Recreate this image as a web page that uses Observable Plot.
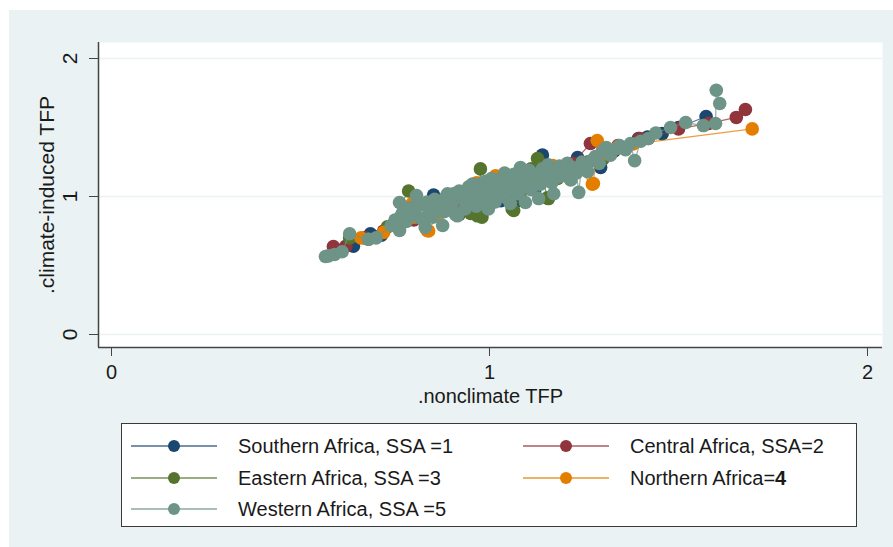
<!DOCTYPE html>
<html>
<head>
<meta charset="utf-8">
<script src="https://cdn.jsdelivr.net/npm/d3@7"></script>
<script src="https://cdn.jsdelivr.net/npm/@observablehq/plot@0.6"></script>
<style>
  html, body { margin: 0; padding: 0; background: #ffffff; }
  #page { position: absolute; left: 9px; top: 10px; width: 884px; height: 537px; background: #eaf2f3; }
  #chart { position: absolute; left: 0; top: 0; }
  #legend { position: absolute; left: 121px; top: 423px; width: 734px; height: 102px;
            background: #ffffff; border: 1.5px solid #3a3a3a; font-family: "Liberation Sans", Arial, sans-serif; }
  .item { position: absolute; height: 24px; display: flex; align-items: center; font-size: 20px; color: #1a1a1a; white-space: nowrap; }
  .item svg { margin-right: 20px; }
</style>
</head>
<body>
<div id="page"></div>
<div id="chart"></div>
<div id="legend"></div>
<script>
// ---- data ----
const regions = ["Southern Africa, SSA =1", "Central Africa, SSA=2", "Eastern Africa, SSA =3", "Northern Africa=4", "Western Africa, SSA =5"];
const colors = ["#1a476f", "#90353b", "#55752f", "#e37e00", "#6e9387"];

const southern = [[0.60,0.61],[0.64,0.64],[0.685,0.73],[0.714,0.72],[0.76,0.80],[0.80,0.86],[0.852,1.01],[0.87,0.93],[0.90,0.95],[0.93,0.97],[0.95,1.06],[0.96,1.00],[0.99,1.02],[1.02,1.05],[1.03,0.97],[1.06,1.10],[1.074,0.97],[1.08,1.15],[1.10,1.10],[1.12,1.05],[1.14,1.30],[1.15,1.20],[1.18,1.17],[1.20,1.19],[1.233,1.283],[1.26,1.25],[1.294,1.21],[1.33,1.33],[1.394,1.42],[1.418,1.43],[1.457,1.456],[1.50,1.50],[1.573,1.58]];
const central = [[0.587,0.638],[0.62,0.64],[0.67,0.70],[0.72,0.75],[0.782,0.886],[0.80,0.83],[0.84,0.88],[0.88,0.92],[0.92,0.96],[0.95,0.99],[0.98,1.02],[1.01,1.05],[1.04,1.07],[1.07,1.10],[1.10,1.12],[1.13,1.15],[1.16,1.18],[1.19,1.21],[1.22,1.24],[1.267,1.384],[1.30,1.33],[1.34,1.37],[1.397,1.42],[1.42,1.42],[1.50,1.49],[1.58,1.53],[1.653,1.573],[1.677,1.63]];
const eastern = [[0.63,0.70],[0.68,0.69],[0.73,0.78],[0.786,1.04],[0.80,0.90],[0.84,0.92],[0.88,0.90],[0.92,0.87],[0.95,0.877],[0.968,0.86],[0.976,1.20],[0.98,0.85],[1.00,0.98],[1.03,1.02],[1.06,0.91],[1.064,0.899],[1.09,1.05],[1.11,1.20],[1.127,1.275],[1.132,1.246],[1.153,0.99],[1.156,0.985],[1.18,1.13],[1.21,1.16],[1.25,1.22],[1.30,1.27],[1.36,1.35]];
const northern = [[0.66,0.70],[0.72,0.74],[0.796,0.95],[0.80,0.85],[0.835,0.754],[0.839,0.75],[0.86,0.86],[0.90,0.92],[0.937,1.03],[0.966,1.10],[0.99,0.96],[1.016,1.15],[1.05,1.15],[1.06,1.02],[1.08,1.06],[1.11,1.08],[1.14,1.12],[1.167,1.225],[1.20,1.15],[1.23,1.20],[1.272,1.09],[1.275,1.094],[1.285,1.406],[1.313,1.31],[1.34,1.36],[1.38,1.38],[1.695,1.49]];
const western = [[0.566,0.565],[0.574,0.57],[0.59,0.58],[0.61,0.60],[0.63,0.73],[0.68,0.69],[0.70,0.70],[0.74,0.79],[0.75,0.83],[0.762,0.957],[0.762,0.754],[0.77,0.88],[0.78,0.82],[0.79,0.92],[0.80,0.86],[0.807,1.007],[0.81,0.93],[0.82,0.84],[0.83,0.776],[0.835,0.96],[0.84,0.90],[0.85,0.85],[0.855,0.98],[0.86,0.93],[0.87,0.92],[0.876,0.79],[0.88,0.89],[0.885,1.00],[0.889,1.02],[0.89,0.95],[0.90,0.94],[0.905,1.02],[0.91,0.87],[0.915,0.86],[0.92,1.04],[0.93,0.98],[0.935,0.91],[0.94,0.95],[0.945,1.07],[0.95,1.01],[0.955,1.09],[0.96,1.00],[0.965,0.93],[0.97,0.97],[0.975,1.09],[0.98,1.04],[0.985,0.95],[0.99,1.11],[0.997,0.91],[1.00,1.01],[1.005,1.13],[1.01,1.06],[1.015,0.96],[1.02,1.12],[1.03,1.03],[1.035,1.09],[1.04,1.17],[1.045,0.99],[1.05,1.13],[1.055,0.95],[1.06,1.05],[1.065,1.16],[1.07,1.11],[1.075,1.02],[1.08,1.08],[1.082,1.21],[1.085,1.17],[1.09,1.11],[1.095,0.957],[1.10,1.14],[1.105,1.19],[1.11,1.05],[1.12,1.10],[1.125,1.16],[1.13,0.985],[1.135,1.09],[1.14,1.20],[1.15,1.12],[1.155,1.23],[1.16,1.17],[1.165,1.10],[1.17,1.02],[1.175,1.20],[1.18,1.14],[1.185,1.22],[1.19,1.15],[1.20,1.18],[1.206,1.24],[1.215,1.12],[1.22,1.21],[1.23,1.17],[1.236,1.03],[1.245,1.25],[1.25,1.20],[1.26,1.18],[1.27,1.26],[1.28,1.29],[1.29,1.24],[1.30,1.333],[1.309,1.355],[1.32,1.30],[1.338,1.348],[1.344,1.37],[1.36,1.34],[1.373,1.384],[1.384,1.26],[1.40,1.40],[1.42,1.42],[1.44,1.46],[1.479,1.50],[1.519,1.536],[1.566,1.514],[1.598,1.529],[1.60,1.77],[1.609,1.674]];

const seriesData = [southern, central, eastern, northern, western];
const axisTicks = [0, 1, 2];
const xTitle = ".nonclimate TFP";
const yTitle = ".climate-induced TFP";

// ---- chart ----
const font = '"Liberation Sans", Arial, sans-serif';
const xDomain = [-0.0344, 2.0397];
const yDomain = [-0.0942, 2.116];

const marks = [
  Plot.frame({fill: "#ffffff", stroke: null}),
  Plot.ruleY(axisTicks, {stroke: "#eaf2f3", strokeWidth: 1.5})
];
seriesData.forEach((pts, i) => {
  marks.push(Plot.line(pts, {x: d => d[0], y: d => d[1], stroke: colors[i], strokeWidth: 1.2, strokeOpacity: 0.75}));
  marks.push(Plot.dot(pts, {x: d => d[0], y: d => d[1], r: 6.8, fill: colors[i], stroke: null}));
});
marks.push(
  Plot.ruleX([xDomain[0]], {stroke: "#444", strokeWidth: 1.5}),
  Plot.ruleY([yDomain[0]], {stroke: "#444", strokeWidth: 1.5}),
  Plot.axisX({ticks: axisTicks, tickSize: 9, tickPadding: 8, fontSize: 20, tickFormat: d => String(d), stroke: "#444", fill: "#1a1a1a", label: null}),
  Plot.axisY({ticks: axisTicks, tickSize: 9, tickFormat: () => "", stroke: "#444", label: null}),
  Plot.text(axisTicks, {y: d => d, text: d => String(d), frameAnchor: "left", textAnchor: "middle", dx: -28, rotate: -90, fontSize: 21, fill: "#1a1a1a"}),
  Plot.text([yTitle], {frameAnchor: "left", textAnchor: "middle", dx: -51, rotate: -90, fontSize: 21, fill: "#1a1a1a"}),
  Plot.text([xTitle], {frameAnchor: "bottom", textAnchor: "middle", dy: 55, fontSize: 20, fill: "#1a1a1a"})
);

const chart = Plot.plot({
  width: 893,
  height: 415,
  marginLeft: 98,
  marginRight: 11,
  marginTop: 42,
  marginBottom: 68,
  x: {domain: xDomain, axis: null},
  y: {domain: yDomain, axis: null},
  style: {background: "transparent", fontFamily: font, overflow: "visible"},
  marks
});
document.getElementById("chart").appendChild(chart);

// ---- legend ----
const legend = document.getElementById("legend");
const pos = [[8, 10], [400, 10], [8, 42], [400, 42], [8, 73]];
regions.forEach((name, i) => {
  const div = document.createElement("div");
  div.className = "item";
  div.style.left = pos[i][0] + "px";
  div.style.top = pos[i][1] + "px";
  const s = d3.create("svg").attr("width", 88).attr("height", 24);
  s.append("line").attr("x1", 1).attr("x2", 87).attr("y1", 12).attr("y2", 12).attr("stroke", colors[i]).attr("stroke-opacity", 0.6).attr("stroke-width", 2);
  s.append("circle").attr("cx", 44).attr("cy", 12).attr("r", 6).attr("fill", colors[i]);
  div.appendChild(s.node());
  const t = document.createElement("span");
  if (i === 3) { t.innerHTML = "Northern Africa=<b>4</b>"; } else { t.textContent = name; }
  div.appendChild(t);
  legend.appendChild(div);
});
</script>
</body>
</html>
